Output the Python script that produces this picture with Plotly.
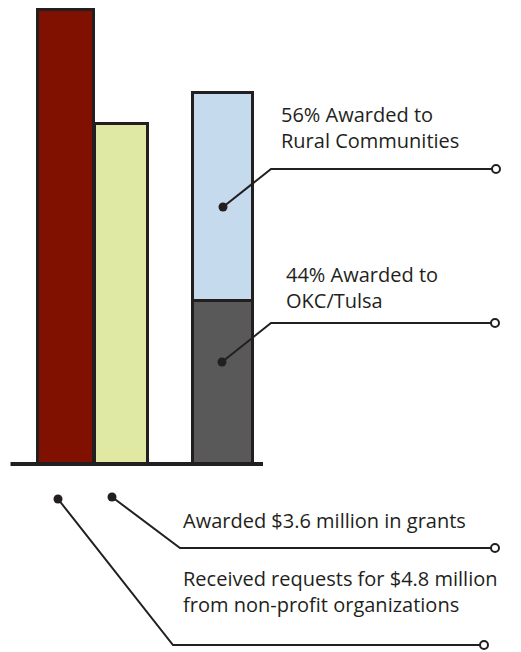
import plotly.graph_objects as go

# the page body has an 8px margin, so the figure is drawn 8px in from the window corner
PAD = 8
W, H = 521 - PAD, 652 - PAD

# grant money, $ millions
amount_labels = ["Requested", "Awarded"]
amounts = [4.8, 3.6]
# split of the awarded money, percent
share_labels = ["OKC/Tulsa", "Rural Communities"]
shares = [44, 56]

ink = "#231f20"
amount_colors = ["#801000", "#e0e9a4"]
share_colors = ["#595959", "#c6daee"]

fig = go.Figure()

# requested / awarded bars (side by side, touching)
fig.add_trace(go.Bar(x=[0, 1], y=amounts, width=[1, 0.96], marker=dict(color=amount_colors, line=dict(color=ink, width=3)),
                     hoverinfo="skip", showlegend=False))

# awarded split, stacked, on its own percent axis
for lab, val, col in zip(share_labels, shares, share_colors):
    fig.add_trace(go.Bar(x=[2.83], y=[val], width=[1.08], yaxis="y2", name=lab,
                         marker=dict(color=col, line=dict(color=ink, width=3)), hoverinfo="skip", showlegend=False))

# callouts, in window pixels (dot, elbow, end)
callouts = [
    [(223, 207), (271, 169), (496, 169)],
    [(222, 362), (271, 323), (495, 323)],
    [(112, 497), (180, 548), (495, 548)],
    [(58, 499), (173, 645), (484, 645)],
]
for pts in callouts:
    xs = [p[0] - PAD for p in pts]
    ys = [p[1] - PAD for p in pts]
    fig.add_trace(go.Scatter(x=xs, y=ys, xaxis="x3", yaxis="y3", mode="lines", line=dict(color=ink, width=2),
                             hoverinfo="skip", showlegend=False))
    fig.add_trace(go.Scatter(x=[xs[0]], y=[ys[0]], xaxis="x3", yaxis="y3", mode="markers",
                             marker=dict(size=9, color=ink), hoverinfo="skip", showlegend=False))
    fig.add_trace(go.Scatter(x=[xs[-1]], y=[ys[-1]], xaxis="x3", yaxis="y3", mode="markers",
                             marker=dict(size=8, color="white", line=dict(color=ink, width=2)),
                             hoverinfo="skip", showlegend=False))

texts = [
    ("56% Awarded to<br>Rural Communities", 279, 127),
    ("44% Awarded to<br>OKC/Tulsa", 284, 287),
    ("Awarded $3.6 million in grants", 181, 520),
    ("Received requests for $4.8 million<br>from non-profit organizations", 181, 591),
]
for t, x, y in texts:
    fig.add_annotation(text=t, x=x - PAD, y=y - PAD, xref="x3", yref="y3", xanchor="left", yanchor="middle",
                       align="left", showarrow=False, font=dict(family="Open Sans", size=20, color=ink))

# baseline
fig.add_shape(type="line", xref="x", yref="y", x0=-1.0, x1=3.55, y0=0, y1=0, line=dict(color=ink, width=4))

px_per_x = 55.5
x0_px = 66 - PAD
base_px = 464 - PAD
px_per_mil = (base_px - (10 - PAD)) / 4.8
px_per_pct = (base_px - (93 - PAD)) / 100

fig.update_layout(
    width=W, height=H,
    margin=dict(l=0, r=0, t=0, b=0),
    paper_bgcolor="white", plot_bgcolor="white",
    barmode="stack", bargap=0,
    xaxis=dict(range=[-x0_px / px_per_x, (W - x0_px) / px_per_x], visible=False),
    yaxis=dict(range=[-(H - base_px) / px_per_mil, base_px / px_per_mil], visible=False),
    yaxis2=dict(range=[-(H - base_px) / px_per_pct, base_px / px_per_pct], overlaying="y", visible=False),
    xaxis3=dict(range=[0, W], overlaying="x", visible=False),
    yaxis3=dict(range=[H, 0], overlaying="y", visible=False),
)

fig.write_html("out.html")
